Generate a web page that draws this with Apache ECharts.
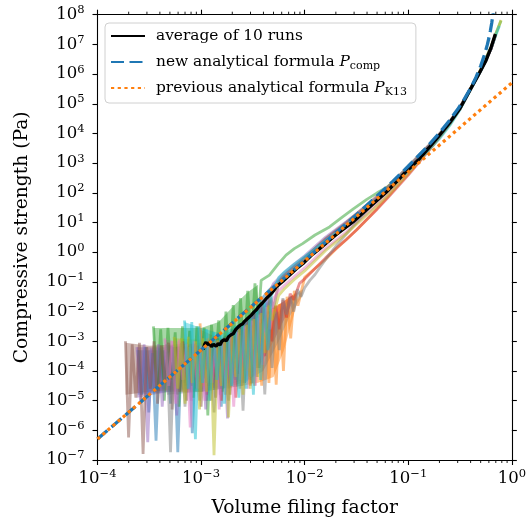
<!DOCTYPE html>
<html>
<head>
<meta charset="utf-8">
<script src="https://cdn.jsdelivr.net/npm/echarts@6/dist/echarts.min.js"></script>
<style>
html,body{margin:0;padding:0;background:#fff;}
#chart{width:529px;height:523px;}
</style>
</head>
<body>
<div id="chart"></div>
<script>
// ---------- data (simulation runs in log10 units: [log10 phi, log10 P]) ----------
const runBrown = [[-3.73,-3.0],[-3.70,-6.24],[-3.665,-3.1],[-3.63,-4.9],[-3.595,-3.05],[-3.56,-6.8],[-3.525,-3.2],[-3.49,-4.6],[-3.455,-3.0],[-3.42,-5.1],[-3.385,-3.15],[-3.35,-4.4],[-3.315,-3.05],[-3.28,-5.3],[-3.245,-3.2],[-3.21,-4.7],[-3.175,-3.0],[-3.14,-5.0],[-3.105,-3.1],[-3.07,-4.3],[-3.035,-3.15],[-3.0,-5.2],[-2.965,-3.0],[-2.93,-4.5],[-2.895,-3.1],[-2.86,-4.9],[-2.825,-2.95],[-2.79,-4.2],[-2.755,-2.85],[-2.72,-4.8],[-2.685,-2.65],[-2.65,-4.1],[-2.615,-2.5],[-2.58,-4.4],[-2.545,-2.3],[-2.51,-4.4],[-2.475,-2.05],[-2.44,-3.9],[-2.405,-1.75],[-2.37,-2.6],[-2.335,-1.45],[-2.30,-1.9],[-2.25,-1.0],[-2.2,-0.8],[-2.1,-0.5],[-2.0,-0.2],[-1.8,0.45],[-1.6,1.0],[-1.4,1.59],[-1.2,2.2],[-1.0,2.88],[-0.8,3.6],[-0.7,3.98],[-0.6,4.4],[-0.5,4.9],[-0.4,5.52],[-0.3,6.15],[-0.2,6.88],[-0.16,7.33]];
const runPurple = [[-3.62,-3.2],[-3.585,-5.0],[-3.55,-3.1],[-3.515,-6.4],[-3.48,-3.25],[-3.445,-4.7],[-3.41,-3.1],[-3.375,-5.2],[-3.34,-3.3],[-3.305,-4.5],[-3.27,-3.15],[-3.235,-5.5],[-3.2,-3.2],[-3.165,-4.3],[-3.13,-3.35],[-3.095,-5.0],[-3.06,-3.1],[-3.025,-4.6],[-2.99,-3.2],[-2.955,-5.3],[-2.92,-3.05],[-2.885,-4.4],[-2.85,-3.0],[-2.815,-4.8],[-2.78,-2.9],[-2.745,-5.6],[-2.71,-2.7],[-2.675,-4.2],[-2.64,-2.5],[-2.605,-4.5],[-2.57,-2.3],[-2.535,-3.9],[-2.5,-2.05],[-2.465,-4.2],[-2.43,-1.8],[-2.395,-2.7],[-2.36,-1.5],[-2.3,-1.05],[-2.2,-0.7],[-2.1,-0.4],[-2.0,-0.12],[-1.8,0.5],[-1.6,1.02],[-1.4,1.56],[-1.2,2.14],[-1.0,2.84],[-0.8,3.59],[-0.7,3.97],[-0.6,4.38],[-0.5,4.88],[-0.4,5.5],[-0.3,6.12],[-0.2,6.86],[-0.16,7.3]];
const runBlue = [[-3.61,-3.3],[-3.575,-4.8],[-3.54,-3.2],[-3.505,-5.4],[-3.47,-3.4],[-3.435,-6.35],[-3.4,-3.25],[-3.365,-4.6],[-3.33,-3.35],[-3.295,-5.1],[-3.26,-3.2],[-3.225,-6.74],[-3.19,-3.3],[-3.155,-4.4],[-3.12,-3.15],[-3.085,-6.1],[-3.05,-3.3],[-3.015,-4.7],[-2.98,-3.1],[-2.945,-5.0],[-2.91,-3.2],[-2.875,-4.3],[-2.84,-2.9],[-2.805,-5.2],[-2.77,-2.85],[-2.735,-4.6],[-2.7,-2.6],[-2.665,-4.0],[-2.63,-2.45],[-2.595,-4.4],[-2.56,-2.2],[-2.525,-4.3],[-2.49,-2.0],[-2.455,-3.9],[-2.42,-1.6],[-2.35,-1.3],[-2.3,-1.13],[-2.2,-0.78],[-2.1,-0.47],[-2.0,-0.18],[-1.8,0.42],[-1.6,0.96],[-1.4,1.52],[-1.2,2.12],[-1.0,2.82],[-0.8,3.57],[-0.7,3.95],[-0.6,4.37],[-0.5,4.86],[-0.4,5.5],[-0.3,6.13],[-0.2,6.86],[-0.16,7.32]];
const runGreen = [[-3.46,-2.5],[-3.425,-4.6],[-3.39,-2.6],[-3.355,-5.0],[-3.32,-2.55],[-3.285,-4.3],[-3.25,-2.7],[-3.215,-5.2],[-3.18,-2.5],[-3.145,-4.5],[-3.11,-2.65],[-3.075,-4.9],[-3.04,-2.5],[-3.005,-4.2],[-2.97,-2.55],[-2.935,-5.5],[-2.9,-2.45],[-2.865,-4.0],[-2.83,-2.3],[-2.795,-4.7],[-2.76,-2.0],[-2.725,-4.3],[-2.69,-1.78],[-2.655,-3.9],[-2.62,-1.55],[-2.585,-3.6],[-2.55,-1.3],[-2.515,-3.0],[-2.48,-1.05],[-2.445,-2.2],[-2.42,-0.95],[-2.34,-0.77],[-2.26,-0.42],[-2.18,-0.1],[-2.1,0.12],[-2.02,0.29],[-1.9,0.58],[-1.76,0.85],[-1.65,1.15],[-1.53,1.46],[-1.4,1.78],[-1.3,2.0],[-1.2,2.2],[-1.1,2.5],[-1.0,2.8],[-0.9,3.15],[-0.8,3.55],[-0.7,3.95],[-0.6,4.37],[-0.5,4.87],[-0.4,5.5],[-0.3,6.15],[-0.2,6.92],[-0.15,7.4],[-0.104,7.8]];
const runPink = [[-3.35,-2.9],[-3.315,-4.5],[-3.28,-3.0],[-3.245,-5.1],[-3.21,-2.95],[-3.175,-4.3],[-3.14,-3.1],[-3.105,-5.9],[-3.07,-3.0],[-3.035,-4.6],[-3.0,-3.15],[-2.965,-5.0],[-2.93,-3.05],[-2.895,-4.4],[-2.86,-3.1],[-2.825,-5.3],[-2.79,-3.0],[-2.755,-4.7],[-2.72,-2.85],[-2.685,-5.2],[-2.65,-2.7],[-2.615,-4.3],[-2.58,-2.5],[-2.545,-4.6],[-2.51,-2.3],[-2.475,-4.5],[-2.44,-2.1],[-2.405,-3.8],[-2.37,-1.85],[-2.335,-2.6],[-2.3,-1.55],[-2.25,-1.3],[-2.2,-1.13],[-2.1,-0.82],[-2.0,-0.53],[-1.8,0.12],[-1.6,0.68],[-1.4,1.3],[-1.2,1.93],[-1.0,2.69],[-0.8,3.5],[-0.7,3.9],[-0.6,4.35],[-0.5,4.85],[-0.4,5.5],[-0.3,6.13],[-0.2,6.86],[-0.16,7.3]];
const runGray = [[-3.33,-3.1],[-3.295,-6.74],[-3.26,-3.2],[-3.225,-4.8],[-3.19,-3.05],[-3.155,-5.2],[-3.12,-3.2],[-3.085,-4.5],[-3.05,-3.1],[-3.015,-5.0],[-2.98,-3.25],[-2.945,-4.4],[-2.91,-3.1],[-2.875,-5.4],[-2.84,-3.0],[-2.805,-4.6],[-2.77,-2.95],[-2.735,-5.0],[-2.7,-2.9],[-2.665,-4.3],[-2.63,-2.8],[-2.595,-5.34],[-2.56,-2.6],[-2.525,-4.2],[-2.49,-2.45],[-2.455,-3.9],[-2.42,-2.4],[-2.385,-4.79],[-2.35,-2.2],[-2.315,-3.9],[-2.28,-2.0],[-2.245,-3.3],[-2.21,-1.55],[-2.175,-2.1],[-2.14,-1.5],[-2.105,-2.0],[-2.07,-1.25],[-2.035,-1.5],[-2.0,-1.2],[-1.95,-0.95],[-1.9,-0.75],[-1.85,-0.5],[-1.8,-0.25],[-1.7,0.2],[-1.6,0.6],[-1.5,1.0],[-1.4,1.4],[-1.3,1.8],[-1.2,2.15],[-1.0,2.9],[-0.8,3.6],[-0.7,3.98],[-0.6,4.4],[-0.5,4.88],[-0.4,5.52],[-0.3,6.14],[-0.2,6.86],[-0.16,7.3]];
const runOlive = [[-3.26,-2.85],[-3.225,-4.6],[-3.19,-2.9],[-3.155,-5.1],[-3.12,-2.85],[-3.085,-4.4],[-3.05,-3.0],[-3.015,-5.3],[-2.98,-2.9],[-2.945,-4.7],[-2.91,-3.0],[-2.875,-6.84],[-2.84,-2.95],[-2.805,-4.5],[-2.77,-2.9],[-2.735,-5.57],[-2.7,-2.75],[-2.665,-4.2],[-2.63,-2.6],[-2.595,-4.8],[-2.56,-2.45],[-2.525,-4.6],[-2.49,-2.25],[-2.455,-4.2],[-2.42,-2.05],[-2.385,-3.4],[-2.35,-1.8],[-2.315,-2.3],[-2.25,-1.45],[-2.2,-1.25],[-2.1,-0.92],[-2.0,-0.63],[-1.8,0.05],[-1.6,0.62],[-1.4,1.25],[-1.2,1.9],[-1.0,2.66],[-0.8,3.46],[-0.7,3.87],[-0.6,4.3],[-0.5,4.83],[-0.4,5.5],[-0.3,6.16],[-0.2,6.92],[-0.15,7.4],[-0.104,7.82]];
const runCyan = [[-3.16,-2.3],[-3.125,-4.6],[-3.09,-2.35],[-3.055,-6.3],[-3.02,-2.5],[-2.985,-4.4],[-2.95,-2.6],[-2.915,-5.0],[-2.88,-2.7],[-2.845,-4.3],[-2.81,-2.8],[-2.775,-5.1],[-2.74,-2.7],[-2.705,-4.5],[-2.67,-2.5],[-2.635,-4.9],[-2.6,-2.35],[-2.565,-4.6],[-2.53,-2.15],[-2.495,-4.8],[-2.46,-1.95],[-2.425,-4.3],[-2.39,-1.7],[-2.355,-3.3],[-2.32,-1.45],[-2.25,-0.85],[-2.2,-0.68],[-2.1,-0.4],[-2.0,-0.15],[-1.8,0.38],[-1.6,0.88],[-1.4,1.45],[-1.2,2.06],[-1.0,2.74],[-0.8,3.45],[-0.7,3.82],[-0.6,4.26],[-0.5,4.8],[-0.4,5.46],[-0.3,6.1],[-0.2,6.86],[-0.15,7.35],[-0.12,7.62]];
const runOrange = [[-3.01,-2.4],[-2.975,-4.5],[-2.94,-2.9],[-2.905,-5.0],[-2.87,-3.0],[-2.835,-4.3],[-2.8,-2.95],[-2.765,-4.8],[-2.73,-2.9],[-2.695,-4.1],[-2.66,-2.8],[-2.625,-4.6],[-2.59,-2.65],[-2.555,-4.0],[-2.52,-2.5],[-2.485,-4.5],[-2.45,-2.3],[-2.415,-4.5],[-2.38,-2.1],[-2.345,-4.4],[-2.31,-1.9],[-2.275,-4.46],[-2.24,-1.75],[-2.205,-4.0],[-2.17,-1.5],[-2.135,-2.9],[-2.1,-1.3],[-2.065,-1.8],[-2.0,-0.85],[-1.9,-0.55],[-1.8,-0.25],[-1.7,0.1],[-1.6,0.42],[-1.5,0.75],[-1.4,1.1],[-1.3,1.47],[-1.2,1.86],[-1.0,2.64],[-0.8,3.46],[-0.7,3.87],[-0.6,4.32],[-0.5,4.83],[-0.4,5.48],[-0.3,6.12],[-0.2,6.85],[-0.16,7.28]];
const runRed = [[-2.98,-3.3],[-2.945,-4.8],[-2.91,-3.2],[-2.875,-4.2],[-2.84,-3.1],[-2.805,-5.0],[-2.77,-3.05],[-2.735,-4.4],[-2.7,-2.9],[-2.665,-4.9],[-2.63,-2.75],[-2.595,-4.0],[-2.56,-2.6],[-2.525,-4.5],[-2.49,-2.45],[-2.455,-3.8],[-2.42,-2.25],[-2.385,-3.5],[-2.35,-2.0],[-2.315,-3.0],[-2.28,-1.8],[-2.245,-2.6],[-2.21,-1.6],[-2.175,-2.2],[-2.14,-1.4],[-2.105,-1.6],[-2.05,-1.05],[-2.0,-0.9],[-1.9,-0.55],[-1.8,-0.2],[-1.7,0.12],[-1.6,0.42],[-1.5,0.75],[-1.4,1.1],[-1.3,1.45],[-1.2,1.82],[-1.0,2.6],[-0.8,3.43],[-0.7,3.86],[-0.6,4.32],[-0.5,4.83],[-0.4,5.48],[-0.3,6.12],[-0.2,6.85],[-0.16,7.28]];

// dense core of each run's noisy part: [log10 phi, upper log10 P, lower log10 P]
const bandBlue   = [[-3.61,-3.3,-4.8],[-3.3,-3.3,-4.7],[-3.0,-3.15,-4.6],[-2.8,-2.9,-4.5],[-2.6,-2.35,-4.3],[-2.48,-2.0,-3.6],[-2.42,-1.65,-2.2]];
const bandOrange = [[-3.01,-2.6,-4.5],[-2.8,-2.95,-4.6],[-2.6,-2.65,-4.5],[-2.45,-2.3,-4.4],[-2.3,-1.85,-4.2],[-2.2,-1.65,-3.3],[-2.08,-1.35,-1.8]];
const bandGreen  = [[-3.46,-2.55,-4.7],[-3.0,-2.55,-4.6],[-2.83,-2.35,-4.5],[-2.69,-1.82,-4.3],[-2.55,-1.35,-3.9],[-2.45,-1.1,-2.4]];
const bandRed    = [[-2.98,-3.3,-4.5],[-2.8,-3.1,-4.6],[-2.6,-2.6,-4.3],[-2.45,-2.35,-3.9],[-2.3,-1.9,-3.0],[-2.12,-1.45,-1.7]];
const bandPurple = [[-3.62,-3.2,-4.9],[-3.3,-3.2,-4.7],[-3.0,-3.15,-4.7],[-2.8,-2.95,-4.5],[-2.6,-2.45,-4.3],[-2.45,-1.95,-3.7],[-2.36,-1.55,-2.1]];
const bandBrown  = [[-3.73,-3.05,-4.8],[-3.5,-3.15,-4.7],[-3.2,-3.1,-4.6],[-2.95,-3.05,-4.6],[-2.75,-2.85,-4.5],[-2.6,-2.5,-4.3],[-2.45,-2.0,-3.6],[-2.32,-1.55,-2.0]];
const bandPink   = [[-3.35,-2.95,-4.7],[-3.0,-3.1,-4.6],[-2.8,-3.0,-4.5],[-2.6,-2.55,-4.3],[-2.45,-2.05,-3.6],[-2.31,-1.6,-2.0]];
const bandGray   = [[-3.33,-3.15,-4.8],[-3.0,-3.2,-4.7],[-2.8,-3.0,-4.6],[-2.6,-2.65,-4.4],[-2.4,-2.35,-4.0],[-2.25,-2.0,-3.0],[-2.15,-1.55,-2.2],[-2.02,-1.25,-1.45]];
const bandOlive  = [[-3.26,-2.9,-4.7],[-3.0,-2.95,-4.7],[-2.8,-2.9,-4.6],[-2.6,-2.5,-4.4],[-2.45,-2.05,-3.8],[-2.32,-1.75,-2.1]];
const bandCyan   = [[-3.16,-2.35,-4.6],[-3.0,-2.55,-4.7],[-2.8,-2.75,-4.6],[-2.6,-2.35,-4.5],[-2.45,-1.9,-4.0],[-2.33,-1.5,-2.1]];

const averageRun = [[-2.98,-3.28],[-2.965,-3.1],[-2.952,-3.03],[-2.94,-3.12],[-2.92,-3.05],[-2.9,-3.18],[-2.88,-3.1],[-2.855,-3.17],[-2.835,-3.08],[-2.815,-3.12],[-2.8,-3.0],[-2.775,-2.95],[-2.755,-2.98],[-2.735,-2.85],[-2.71,-2.78],[-2.69,-2.75],[-2.665,-2.6],[-2.646,-2.53],[-2.62,-2.45],[-2.6,-2.42],[-2.58,-2.33],[-2.562,-2.28],[-2.54,-2.2],[-2.515,-2.12],[-2.49,-2.02],[-2.466,-1.94],[-2.44,-1.82],[-2.41,-1.72],[-2.369,-1.55],[-2.33,-1.42],[-2.3,-1.3],[-2.273,-1.16],[-2.21,-0.98],[-2.145,-0.77],[-2.08,-0.56],[-2.016,-0.38],[-1.94,-0.12],[-1.855,0.12],[-1.7,0.58],[-1.534,1.02],[-1.4,1.44],[-1.213,2.02],[-1.1,2.42],[-1.02,2.72],[-0.9,3.12],[-0.8,3.52],[-0.7,3.93],[-0.6,4.36],[-0.5,4.85],[-0.41,5.42],[-0.33,5.93],[-0.249,6.46],[-0.2,6.9],[-0.159,7.35]];

// analytical formulas (linear units)
const newPhi = [1e-4, 1e-3, 1e-2, 0.03, 0.05, 0.07, 0.1, 0.15, 0.2, 0.25, 0.3, 0.35, 0.4, 0.45, 0.5, 0.55, 0.58, 0.6, 0.62, 0.64, 0.66];
const newP   = [5.07e-7, 5.09e-4, 0.528, 15.5, 78.2, 234, 784, 3375, 10434, 27280, 65100, 148400, 334000, 767300, 1.855e6, 4.98e6, 9.8e6, 1.61e7, 2.83e7, 5.39e7, 1.146e8];
const k13Phi = [1e-4, 1e-3, 1e-2, 1e-1, 1];
const k13P   = [5.07e-7, 5.07e-4, 0.507, 507, 5.07e5];

// minor tick positions on the phi axis
const xMinorTicks = [2e-4,3e-4,4e-4,5e-4,6e-4,7e-4,8e-4,9e-4,2e-3,3e-3,4e-3,5e-3,6e-3,7e-3,8e-3,9e-3,2e-2,3e-2,4e-2,5e-2,6e-2,7e-2,8e-2,9e-2,0.2,0.3,0.4,0.5,0.6,0.7,0.8,0.9];

const runColors = ['#1f77b4','#ff7f0e','#2ca02c','#d62728','#9467bd','#8c564b','#e377c2','#7f7f7f','#bcbd22','#17becf'];
const runs  = [runBlue, runOrange, runGreen, runRed, runPurple, runBrown, runPink, runGray, runOlive, runCyan];
const bands = [bandBlue, bandOrange, bandGreen, bandRed, bandPurple, bandBrown, bandPink, bandGray, bandOlive, bandCyan];

const legendNames = ['average of 10 runs', 'new analytical formula', 'previous analytical formula'];
const xTitle = 'Volume filing factor';
const yTitle = 'Compressive strength (Pa)';

// ---------- chart ----------
const SERIF = 'DejaVu Serif';
const chart = echarts.init(document.getElementById('chart'), null, {renderer: 'canvas'});

function pow10(pts) { return pts.map(p => [Math.pow(10, p[0]), Math.pow(10, p[1])]); }
function zip(a, b) { return a.map((v, i) => [v, b[i]]); }
function expLabel(v) {
  const e = Math.round(Math.log10(v));
  const s = e < 0 ? '\u2212' + (-e) : String(e);
  return '{b|10}{s|' + s + '}';
}
const richTick = {
  b: {fontFamily: SERIF, fontSize: 16.5, color: '#000'},
  s: {fontFamily: SERIF, fontSize: 11.5, color: '#000', padding: [0, 0, 9, 0]}
};

const series = [];
runs.forEach((r, i) => {
  const band = bands[i];
  series.push({
    type: 'custom', name: 'band' + i, silent: true, clip: true, z: 2,
    data: [[Math.pow(10, band[0][0]), Math.pow(10, band[0][1])]],
    renderItem: function (params, api) {
      const up = band.map(b => api.coord([Math.pow(10, b[0]), Math.pow(10, b[1])]));
      const lo = band.slice().reverse().map(b => api.coord([Math.pow(10, b[0]), Math.pow(10, b[2])]));
      return {type: 'polygon', shape: {points: up.concat(lo)},
              style: {fill: runColors[i], opacity: 0.42}};
    }
  });
  series.push({
    type: 'line', name: 'run' + i, data: pow10(r), showSymbol: false, symbol: 'none',
    silent: true, z: 2,
    lineStyle: {color: runColors[i], width: 2.8, opacity: 0.5}
  });
});
series.push({
  type: 'line', name: legendNames[0], data: pow10(averageRun), symbol: 'none', z: 3,
  lineStyle: {color: '#000', width: 3.3}, itemStyle: {color: '#000'}
});
series.push({
  type: 'line', name: legendNames[1], data: zip(newPhi, newP), symbol: 'none', z: 4,
  lineStyle: {color: '#1f77b4', width: 3.3, type: [13, 5.5]}, itemStyle: {color: '#1f77b4'}
});
series.push({
  type: 'line', name: legendNames[2], data: zip(k13Phi, k13P), symbol: 'none', z: 5,
  lineStyle: {color: '#ff7f0e', width: 3.2, type: [3.2, 3.5]}, itemStyle: {color: '#ff7f0e'}
});
series.push({
  type: 'custom', name: 'minorTicks', silent: true, clip: false, z: 10,
  data: xMinorTicks.map(v => [v, 1]),
  renderItem: function (params, api) {
    const x = api.coord([api.value(0), 1])[0];
    const cs = params.coordSys;
    const yb = cs.y + cs.height, yt = cs.y;
    return {type: 'group', children: [
      {type: 'line', shape: {x1: x, y1: yb, x2: x, y2: yb + 3}, style: {stroke: '#000', lineWidth: 0.9}},
      {type: 'line', shape: {x1: x, y1: yt, x2: x, y2: yt - 3}, style: {stroke: '#000', lineWidth: 0.9}}
    ]};
  }
});

const axisCommon = {
  type: 'log', logBase: 10,
  axisLine: {show: true, onZero: false, lineStyle: {color: '#000', width: 1.1}},
  axisTick: {show: true, inside: false, length: 5, lineStyle: {color: '#000', width: 1.1}},
  splitLine: {show: false}
};

const option = {
  animation: false,
  backgroundColor: '#fff',
  grid: {left: 97.5, right: 16.5, top: 14.7, bottom: 60.3, containLabel: false},
  legend: {
    data: legendNames,
    orient: 'vertical', left: 105, top: 23,
    padding: [3, 9, 5, 5],
    itemWidth: 34, itemHeight: 14, itemGap: 6,
    itemStyle: {opacity: 0},
    backgroundColor: 'rgba(255,255,255,0.8)',
    borderColor: '#d0d0d0', borderWidth: 1, borderRadius: 4,
    textStyle: {fontFamily: SERIF, fontSize: 15.4, color: '#000', lineHeight: 20,
      rich: {
        g: {width: 6, lineHeight: 20},
        t: {fontFamily: SERIF, fontSize: 15.4, color: '#000', lineHeight: 20},
        i: {fontFamily: SERIF, fontSize: 15.4, fontStyle: 'italic', color: '#000', lineHeight: 20},
        sub: {fontFamily: SERIF, fontSize: 11, color: '#000', lineHeight: 14, verticalAlign: 'bottom'}
      }},
    formatter: function (name) {
      if (name === legendNames[1]) return '{g|}{t|' + name + ' }{i|P}{sub|comp}';
      if (name === legendNames[2]) return '{g|}{t|' + name + ' }{i|P}{sub|K13}';
      return '{g|}{t|' + name + '}';
    }
  },
  xAxis: [
    Object.assign({}, axisCommon, {
      min: 1e-4, max: 1, position: 'bottom',
      name: xTitle, nameLocation: 'middle', nameGap: 39,
      nameTextStyle: {fontFamily: SERIF, fontSize: 18.7, color: '#000'},
      axisLabel: {show: true, margin: 8, formatter: expLabel, rich: richTick}
    }),
    Object.assign({}, axisCommon, {
      min: 1e-4, max: 1, position: 'top',
      axisLabel: {show: false}
    })
  ],
  yAxis: [
    Object.assign({}, axisCommon, {
      min: 1e-7, max: 1e8, position: 'left', interval: 1, splitNumber: 15,
      name: yTitle, nameLocation: 'middle', nameGap: 66,
      nameTextStyle: {fontFamily: SERIF, fontSize: 18.7, color: '#000'},
      axisLabel: {show: true, margin: 13, formatter: expLabel, rich: richTick}
    }),
    Object.assign({}, axisCommon, {
      min: 1e-7, max: 1e8, position: 'right', interval: 1, splitNumber: 15,
      axisLabel: {show: false}
    })
  ],
  series: series
};
chart.setOption(option);
</script>
</body>
</html>
